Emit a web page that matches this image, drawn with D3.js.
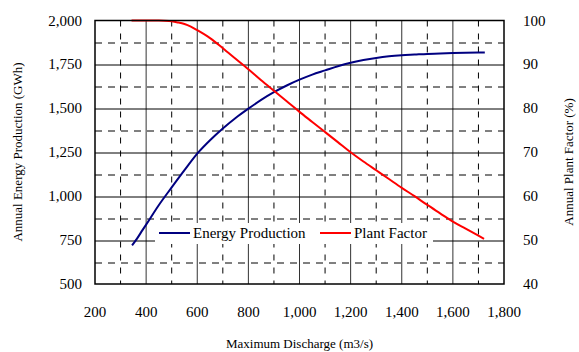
<!DOCTYPE html>
<html>
<head>
<meta charset="utf-8">
<script src="https://cdn.jsdelivr.net/npm/d3@7"></script>
<style>
  body { margin: 0; background: #fff; }
  .lbl { font-family: "Liberation Serif"; fill: #000; }
</style>
</head>
<body>
<script>
// energy production curve (left axis, GWh)
var energyQ = [345, 365, 385, 400, 450, 500, 550, 600, 650, 700, 750, 800, 850, 900, 950, 1000,
               1050, 1100, 1150, 1200, 1250, 1300, 1350, 1400, 1450, 1500, 1550, 1600, 1650, 1700, 1725];
var energyGWh = [720, 760, 805, 838, 950, 1050, 1148, 1242, 1318, 1385, 1445, 1498, 1548, 1592, 1630, 1663,
                 1692, 1716, 1740, 1760, 1775, 1787, 1796, 1802, 1806, 1810, 1812, 1815, 1817, 1818, 1818];

// plant factor curve (right axis, %)
var factorQ = [343, 400, 450, 490, 520, 550, 575, 600, 650, 700, 750, 800, 850, 900, 950, 1000,
               1050, 1100, 1150, 1200, 1250, 1300, 1350, 1400, 1450, 1500, 1550, 1600, 1650, 1700, 1722];
var factorPct = [100, 100, 100, 99.9, 99.6, 99.2, 98.6, 97.8, 96.0, 93.7, 91.3, 88.9, 86.4, 84.0, 81.6, 79.2,
                 76.9, 74.6, 72.3, 70.0, 67.9, 65.9, 63.9, 61.9, 60.0, 58.0, 56.1, 54.2, 52.6, 51.0, 50.3];

var xTicks = [200, 400, 600, 800, 1000, 1200, 1400, 1600, 1800];
var leftTicks = [500, 750, 1000, 1250, 1500, 1750, 2000];
var rightTicks = [40, 50, 60, 70, 80, 90, 100];
var seriesNames = ["Energy Production", "Plant Factor"];
var seriesColors = ["#000080", "#ff0000"];

var margin = {top: 20.5, right: 75, bottom: 68, left: 95},
    width = 579 - margin.left - margin.right,
    height = 352 - margin.top - margin.bottom;

var x = d3.scaleLinear().domain([200, 1800]).range([0, width]);
var yL = d3.scaleLinear().domain([500, 2000]).range([height, 0]);
var yR = d3.scaleLinear().domain([40, 100]).range([height, 0]);

var svg = d3.select("body").append("svg")
    .attr("width", 579)
    .attr("height", 352)
    .append("g")
    .attr("transform", "translate(" + margin.left + "," + margin.top + ")");

// minor (dashed) grid at the midpoints
var xMid = xTicks.slice(0, -1).map(function(d) { return d + 100; });
var yMid = leftTicks.slice(0, -1).map(function(d) { return d + 125; });

svg.selectAll(".vdash").data(xMid).enter().append("line")
    .attr("x1", function(d) { return x(d); }).attr("x2", function(d) { return x(d); })
    .attr("y1", 0).attr("y2", height)
    .attr("stroke", "#000").attr("stroke-width", 1)
    .attr("stroke-dasharray", "6,7");

svg.selectAll(".hdash").data(yMid).enter().append("line")
    .attr("x1", 0).attr("x2", width)
    .attr("y1", function(d) { return Math.round(yL(d)) + 0.5; })
    .attr("y2", function(d) { return Math.round(yL(d)) + 0.5; })
    .attr("stroke", "#000").attr("stroke-width", 1)
    .attr("stroke-dasharray", "7,6");

// major (solid) grid
svg.selectAll(".vsolid").data(xTicks.slice(1, -1)).enter().append("line")
    .attr("x1", function(d) { return x(d); }).attr("x2", function(d) { return x(d); })
    .attr("y1", 0).attr("y2", height)
    .attr("stroke", "#333").attr("stroke-width", 1);

svg.selectAll(".hsolid").data(leftTicks.slice(1, -1)).enter().append("line")
    .attr("x1", 0).attr("x2", width)
    .attr("y1", function(d) { return Math.round(yL(d)) + 0.5; })
    .attr("y2", function(d) { return Math.round(yL(d)) + 0.5; })
    .attr("stroke", "#000").attr("stroke-width", 1);

// curves
var energy = energyQ.map(function(q, i) { return [q, energyGWh[i]]; });
var factor = factorQ.map(function(q, i) { return [q, factorPct[i]]; });

svg.append("path")
    .datum(energy)
    .attr("fill", "none")
    .attr("stroke", seriesColors[0])
    .attr("stroke-width", 2)
    .attr("d", d3.line().curve(d3.curveMonotoneX)
          .x(function(d) { return x(d[0]); })
          .y(function(d) { return yL(d[1]); }));

svg.append("path")
    .datum(factor)
    .attr("fill", "none")
    .attr("stroke", seriesColors[1])
    .attr("stroke-width", 2)
    .attr("d", d3.line().curve(d3.curveMonotoneX)
          .x(function(d) { return x(d[0]); })
          .y(function(d) { return yR(d[1]); }));

// legend box
var legend = svg.append("g").attr("transform", "translate(" + (155 - margin.left) + "," + (223 - margin.top) + ")");
legend.append("rect")
    .attr("width", 278).attr("height", 21)
    .attr("fill", "#fff");
var legX = [4, 165];
seriesNames.forEach(function(n, i) {
    legend.append("line")
        .attr("x1", legX[i]).attr("x2", legX[i] + 31)
        .attr("y1", 10).attr("y2", 10)
        .attr("stroke", seriesColors[i]).attr("stroke-width", 2);
    legend.append("text")
        .attr("class", "lbl")
        .attr("x", legX[i] + 34).attr("y", 15)
        .style("font-size", "15px")
        .text(n);
});

// frame
svg.append("rect")
    .attr("x", 0).attr("y", 0)
    .attr("width", width).attr("height", height)
    .attr("fill", "none").attr("stroke", "#000").attr("stroke-width", 1.5);

// tick labels
var fmt = d3.format(",");
svg.selectAll(".xl").data(xTicks).enter().append("text")
    .attr("class", "lbl")
    .attr("x", function(d) { return x(d); })
    .attr("y", height + 33)
    .attr("text-anchor", "middle")
    .style("font-size", "15px")
    .text(fmt);

svg.selectAll(".yl").data(leftTicks).enter().append("text")
    .attr("class", "lbl")
    .attr("x", -13)
    .attr("y", function(d) { return yL(d) + 5; })
    .attr("text-anchor", "end")
    .style("font-size", "15px")
    .text(fmt);

svg.selectAll(".yr").data(rightTicks).enter().append("text")
    .attr("class", "lbl")
    .attr("x", width + 19)
    .attr("y", function(d) { return yR(d) + 5; })
    .attr("text-anchor", "start")
    .style("font-size", "15px")
    .text(fmt);

// axis titles
svg.append("text")
    .attr("class", "lbl")
    .attr("x", width / 2)
    .attr("y", 348 - margin.top)
    .attr("text-anchor", "middle")
    .style("font-size", "13px")
    .text("Maximum Discharge (m3/s)");

svg.append("text")
    .attr("class", "lbl")
    .attr("transform", "translate(" + (22 - margin.left) + "," + (152 - margin.top) + ") rotate(-90)")
    .attr("text-anchor", "middle")
    .style("font-size", "13px")
    .text("Annual Energy Production (GWh)");

svg.append("text")
    .attr("class", "lbl")
    .attr("transform", "translate(" + (573 - margin.left) + "," + (162 - margin.top) + ") rotate(-90)")
    .attr("text-anchor", "middle")
    .style("font-size", "13px")
    .text("Annual Plant Factor (%)");
</script>
</body>
</html>
